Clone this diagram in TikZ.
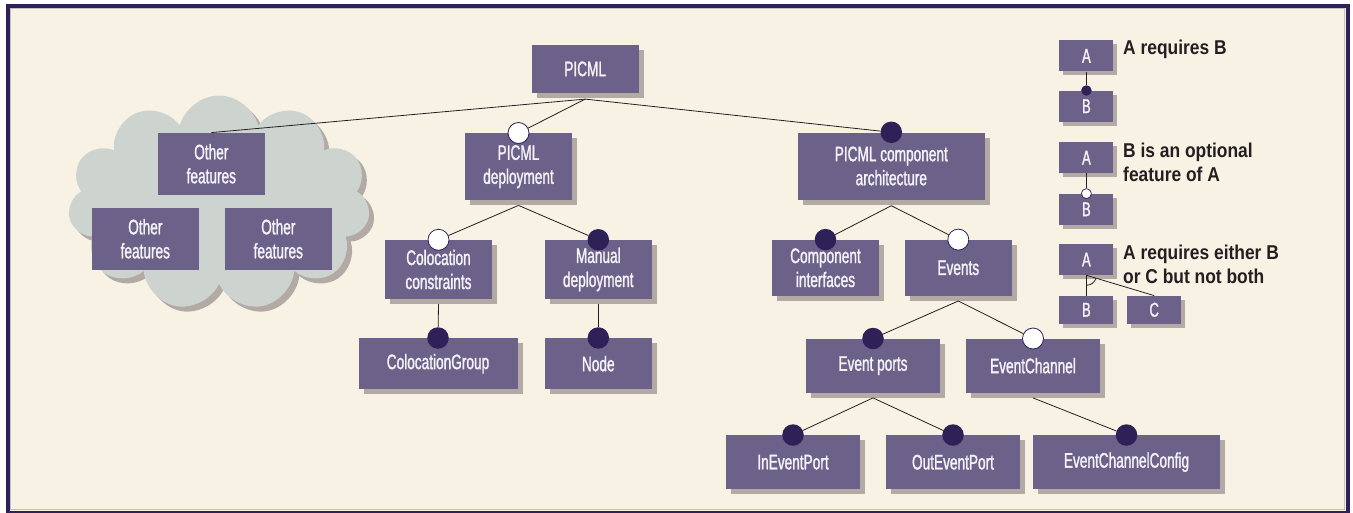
\documentclass[tikz,border=0pt]{standalone}
\usepackage{fontspec}
\usetikzlibrary{shapes.symbols,shadows,calc}
\newfontfamily\boxfont[FakeStretch=0.65,FakeBold=1.3]{Liberation Sans}
\newfontfamily\legfont[FakeStretch=0.87]{Liberation Sans Bold}
\definecolor{bgc}{HTML}{F8F2E5}
\definecolor{boxc}{HTML}{6B6189}
\definecolor{shadowc}{HTML}{B3AAA6}
\definecolor{cloudc}{HTML}{CDD4CF}
\definecolor{darkc}{HTML}{2D2157}
\definecolor{boxtext}{HTML}{F5F2F7}
\definecolor{legtext}{HTML}{231F20}
\definecolor{rimc}{HTML}{C4BEC6}
\begin{document}
\begin{tikzpicture}[x=1pt,y=-1pt,
  sz/.style 2 args={minimum width=#1pt, minimum height=#2pt},
  flatbox/.style={fill=boxc, text=boxtext, font=\boxfont\fontsize{21}{24}\selectfont, align=center, inner sep=0pt},
  box/.style={flatbox, general shadow={fill=shadowc, shadow xshift=5pt, shadow yshift=-5pt}},
  lbox/.style={fill=boxc, text=boxtext, font=\boxfont\fontsize{20}{22}\selectfont, inner sep=0pt, minimum width=54pt, general shadow={fill=shadowc, shadow xshift=4pt, shadow yshift=-4pt}},
  req/.style={circle, fill=darkc, inner sep=0pt, minimum size=21.5pt},
  opt/.style={circle, fill=white, draw=darkc, line width=0.8pt, inner sep=0pt, minimum size=21pt},
  lreq/.style={circle, fill=darkc, inner sep=0pt, minimum size=10.5pt},
  lopt/.style={circle, fill=white, draw=darkc, line width=0.7pt, inner sep=0pt, minimum size=10pt},
  conn/.style={draw=legtext, line width=0.8pt},
  legend/.style={anchor=north west, inner sep=0pt, align=left, text=legtext, font=\legfont\fontsize{20}{24}\selectfont}
]
\useasboundingbox (0,0) rectangle (1353,512);
% frame
\fill[white] (0,0) rectangle (1353,512);
\fill[bgc] (8,6) rectangle (1348,512);
\draw[rimc, line width=1.2pt] (10.6,8.6) rectangle (1344.6,509.4);
\draw[darkc, line width=4.5pt] (8,6) rectangle (1347.75,513.5);

% cloud with other features
\node[cloud, cloud puffs=11, aspect=1.4, fill=cloudc, minimum width=302pt, minimum height=215pt,
      general shadow={fill=shadowc, shadow xshift=5pt, shadow yshift=-5pt}] (cloud) at (219,203) {};
\node[flatbox, sz={107}{62}] (of1) at (211.3,163.8) {Other\\features};
\node[flatbox, sz={107}{62}] (of2) at (145.3,238.8) {Other\\features};
\node[flatbox, sz={107}{62}] (of3) at (278.3,238.8) {Other\\features};

% main tree
\node[box, sz={107}{48}] (picml) at (585.2,68.9) {PICML};
\node[box, sz={107}{67}] (dep) at (518.5,166.7) {PICML\\deployment};
\node[box, sz={187}{67}] (arch) at (891.3,166) {PICML component\\architecture};
\node[box, sz={107}{59}] (coloc) at (438.5,269.5) {Colocation\\constraints};
\node[box, sz={107}{59}] (manual) at (598.3,269.5) {Manual\\deployment};
\node[box, sz={159}{51}] (cgroup) at (438,363.7) {ColocationGroup};
\node[box, sz={107}{51}] (nodeb) at (598.3,363.7) {Node};
\node[box, sz={107}{56}] (cif) at (825.5,267.8) {Component\\interfaces};
\node[box, sz={107}{56}] (events) at (958.3,267.8) {Events};
\node[box, sz={134}{54}] (eports) at (873,365.7) {Event ports};
\node[box, sz={134}{54}] (echan) at (1033,365.7) {EventChannel};
\node[box, sz={134}{54}] (inport) at (793,462.2) {InEventPort};
\node[box, sz={134}{54}] (outport) at (953,462.2) {OutEventPort};
\node[box, sz={187}{54}] (econf) at (1126.5,462.2) {EventChannelConfig};

% branch points below parents
\coordinate (picml-b) at ($(picml.south)+(0,6)$);
\coordinate (dep-b) at ($(dep.south)+(0,5)$);
\coordinate (arch-b) at ($(arch.south)+(0,6)$);
\coordinate (coloc-b) at ($(coloc.south)+(0,5)$);
\coordinate (manual-b) at ($(manual.south)+(0,5)$);
\coordinate (events-b) at ($(events.south)+(0,5)$);
\coordinate (eports-b) at ($(eports.south)+(0,5)$);
\coordinate (echan-b) at ($(echan.south)+(0,5)$);

% markers
\node[opt] (m-dep) at (dep.north) {};
\node[req] (m-arch) at (arch.north) {};
\node[opt] (m-coloc) at (coloc.north) {};
\node[req] (m-manual) at (manual.north) {};
\node[req] (m-cgroup) at (cgroup.north) {};
\node[req] (m-node) at (nodeb.north) {};
\node[req] (m-cif) at (cif.north) {};
\node[opt] (m-events) at (events.north) {};
\node[req] (m-eports) at (eports.north) {};
\node[opt] (m-echan) at (echan.north) {};
\node[req] (m-inport) at (inport.north) {};
\node[req] (m-outport) at (outport.north) {};
\node[req] (m-econf) at (econf.north) {};

% connectors
\draw[conn] (picml-b) -- (of1.north);
\draw[conn] (picml-b) -- (m-dep);
\draw[conn] (picml-b) -- (m-arch);
\draw[conn] (dep-b) -- (m-coloc);
\draw[conn] (dep-b) -- (m-manual);
\draw[conn] (coloc-b) -- (m-cgroup);
\draw[conn] (manual-b) -- (m-node);
\draw[conn] (arch-b) -- (m-cif);
\draw[conn] (arch-b) -- (m-events);
\draw[conn] (events-b) -- (m-eports);
\draw[conn] (events-b) -- (m-echan);
\draw[conn] (eports-b) -- (m-inport);
\draw[conn] (eports-b) -- (m-outport);
\draw[conn] (echan-b) -- (m-econf);

% legend
\node[lbox, minimum height=31pt] (la1) at (1086.4,55.9) {A};
\node[lbox, minimum height=31pt] (lb1) at (1086.4,106.2) {B};
\node[lbox, minimum height=31pt] (la2) at (1086.4,157.7) {A};
\node[lbox, minimum height=31pt] (lb2) at (1086.4,209.3) {B};
\node[lbox, minimum height=31pt] (la3) at (1086.4,259.6) {A};
\node[lbox, minimum height=28pt] (lb3) at (1086.4,309.8) {B};
\node[lbox, minimum height=28pt] (lc3) at (1154.2,309.8) {C};
\node[lreq] (lm1) at (lb1.north) {};
\node[lopt] (lm2) at (lb2.north) {};
\draw[conn] (la1.south) -- (lm1);
\draw[conn] (la2.south) -- (lm2);
\draw[conn] (la3.south) -- (lb3.north);
\draw[conn] (la3.south) -- (lc3.north);
\draw[conn] ($(la3.south)+(0,10)$) arc[start angle=90, end angle=17, radius=10];
\node[legend] (t1) at (1123,40) {A requires B};
\node[legend] (t2) at (1123,143) {B is an optional\\feature of A};
\node[legend] (t3) at (1123,245) {A requires either B\\or C but not both};
\end{tikzpicture}
\end{document}
